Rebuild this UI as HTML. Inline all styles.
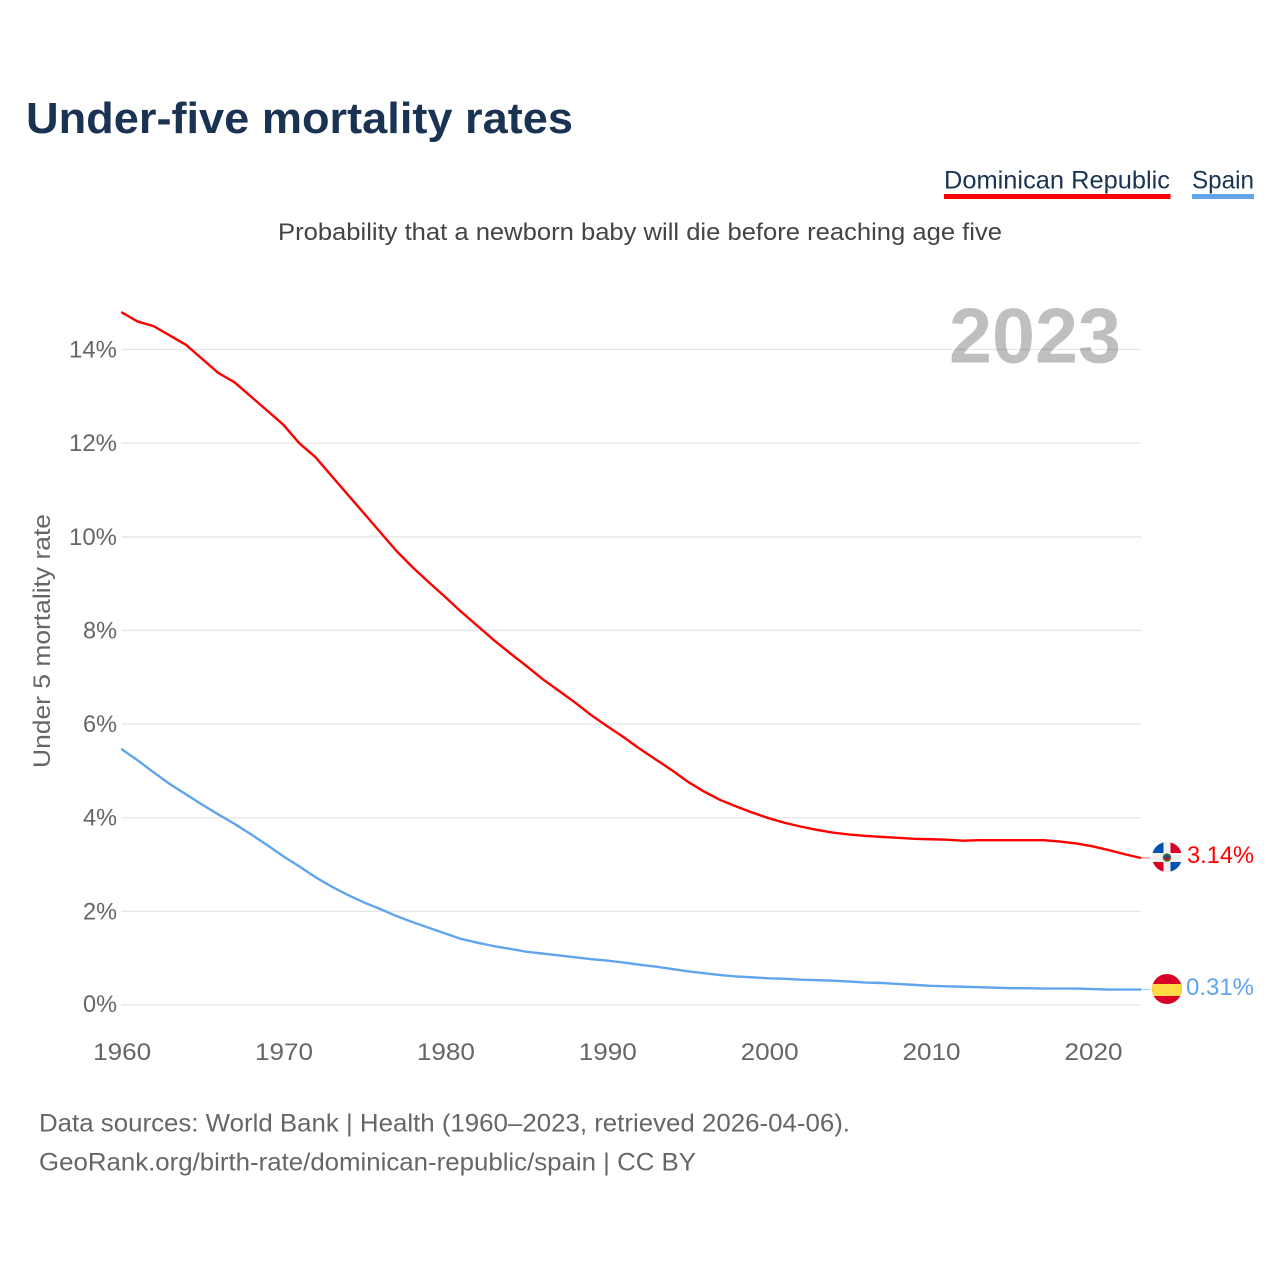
<!DOCTYPE html>
<html lang="en">
<head>
<meta charset="utf-8">
<title>Under-five mortality rates</title>
<style>
  html, body { margin: 0; padding: 0; background: #fff; }
  svg { display: block; font-family: "Liberation Sans", sans-serif; }
</style>
</head>
<body>
<svg id="chart" width="1280" height="1280" viewBox="0 0 1280 1280" xmlns="http://www.w3.org/2000/svg">
  <defs>
    <clipPath id="clip-dr"><circle cx="1167" cy="857" r="15"></circle></clipPath>
    <clipPath id="clip-es"><circle cx="1167" cy="989" r="15"></circle></clipPath>
  </defs>
  <rect width="1280" height="1280" fill="#ffffff"></rect>

  <text x="26" y="133" font-size="44" font-weight="700" fill="#1a3353" textLength="547" lengthAdjust="spacingAndGlyphs">Under-five mortality rates</text>

  <g>
    <text x="944" y="188.5" font-size="25" fill="#1a3353" textLength="226" lengthAdjust="spacingAndGlyphs">Dominican Republic</text>
    <rect x="944" y="194" width="226.5" height="5" fill="#ff0000"></rect>
  </g>
  <g>
    <text x="1192" y="188.5" font-size="25" fill="#1a3353" textLength="62" lengthAdjust="spacingAndGlyphs">Spain</text>
    <rect x="1192" y="194" width="62" height="5" fill="#60a5ee"></rect>
  </g>

  <text x="278" y="240" font-size="24" fill="#444444" textLength="724" lengthAdjust="spacingAndGlyphs">Probability that a newborn baby will die before reaching age five</text>

  <g id="grid"></g>
  <g id="y-ticks"></g>
  <g id="x-ticks"></g>

  <text x="949" y="362.5" font-size="78" font-weight="700" fill="#000000" fill-opacity="0.25" textLength="172" lengthAdjust="spacingAndGlyphs">2023</text>

  <text transform="translate(50 768) rotate(-90)" font-size="24" fill="#666666" textLength="254" lengthAdjust="spacingAndGlyphs">Under 5 mortality rate</text>

  <g id="series"></g>

  <g clip-path="url(#clip-dr)">
    <rect x="1152" y="842" width="30" height="30" fill="#f0f0f0"></rect>
    <rect x="1152" y="842" width="11.5" height="11" fill="#0052b4"></rect>
    <rect x="1170.5" y="842" width="11.5" height="11" fill="#d80027"></rect>
    <rect x="1152" y="862" width="11.5" height="10" fill="#d80027"></rect>
    <rect x="1170.5" y="862" width="11.5" height="10" fill="#0052b4"></rect>
    <circle cx="1167" cy="857.5" r="4.3" fill="#496e2d"></circle>
    <path d="M1164.5 857.5a2.5 2.5 0 0 1 5 0z" fill="#0052b4"></path>
    <path d="M1164.5 857.5a2.5 2.5 0 0 0 5 0z" fill="#d80027"></path>
  </g>
  <g clip-path="url(#clip-es)">
    <rect x="1152" y="974" width="30" height="30" fill="#d80027"></rect>
    <rect x="1152" y="984" width="30" height="12" fill="#ffda44"></rect>
  </g>

  <text x="1187" y="863" font-size="24" fill="#ff0000" textLength="67" lengthAdjust="spacingAndGlyphs">3.14%</text>
  <text x="1186" y="995" font-size="24" fill="#60a5ee" textLength="68" lengthAdjust="spacingAndGlyphs">0.31%</text>

  <text x="39" y="1131.5" font-size="25" fill="#666666" textLength="811" lengthAdjust="spacingAndGlyphs">Data sources: World Bank | Health (1960–2023, retrieved 2026-04-06).</text>
  <text x="39" y="1170.5" font-size="25" fill="#666666" textLength="657" lengthAdjust="spacingAndGlyphs">GeoRank.org/birth-rate/dominican-republic/spain | CC BY</text>
</svg>

<script>
const years = [1960,1961,1962,1963,1964,1965,1966,1967,1968,1969,1970,1971,1972,1973,1974,1975,1976,1977,1978,1979,1980,1981,1982,1983,1984,1985,1986,1987,1988,1989,1990,1991,1992,1993,1994,1995,1996,1997,1998,1999,2000,2001,2002,2003,2004,2005,2006,2007,2008,2009,2010,2011,2012,2013,2014,2015,2016,2017,2018,2019,2020,2021,2022,2023];
const dominicanRepublic = [14.8,14.6,14.5,14.3,14.1,13.8,13.5,13.3,13.0,12.7,12.4,12.0,11.7,11.3,10.9,10.5,10.1,9.7,9.35,9.03,8.72,8.4,8.1,7.8,7.52,7.25,6.97,6.72,6.47,6.2,5.96,5.73,5.48,5.25,5.02,4.77,4.56,4.38,4.24,4.11,3.99,3.89,3.81,3.74,3.68,3.64,3.61,3.59,3.57,3.55,3.54,3.53,3.51,3.52,3.52,3.52,3.52,3.52,3.49,3.45,3.39,3.31,3.22,3.14];
const spain = [5.47,5.23,4.97,4.72,4.5,4.28,4.07,3.87,3.65,3.42,3.18,2.96,2.73,2.53,2.35,2.19,2.05,1.9,1.77,1.65,1.53,1.41,1.33,1.26,1.2,1.14,1.1,1.06,1.02,0.98,0.95,0.91,0.86,0.82,0.77,0.72,0.68,0.64,0.61,0.59,0.57,0.56,0.54,0.53,0.52,0.5,0.48,0.47,0.45,0.43,0.41,0.4,0.39,0.38,0.37,0.36,0.36,0.35,0.35,0.35,0.34,0.33,0.33,0.33];
const yTickValues = [0,2,4,6,8,10,12,14];
const xTickValues = [1960,1970,1980,1990,2000,2010,2020];

const NS = 'http://www.w3.org/2000/svg';
function xScale(year) { return 121.2 + (year - 1960) * (1141 - 121.2) / 63; }
function yScale(value) { return 1005 - value * 46.82; }
function make(tag, attrs, parent) {
  const el = document.createElementNS(NS, tag);
  for (const key in attrs) el.setAttribute(key, attrs[key]);
  parent.appendChild(el);
  return el;
}

const gridGroup = document.getElementById('grid');
const yTickGroup = document.getElementById('y-ticks');
yTickValues.forEach(function (v) {
  const line = make('line', { x1: 121.5, x2: 1141, y1: yScale(v), y2: yScale(v), stroke: '#e6e6e6', 'stroke-width': 1.3 }, gridGroup);
  
  
  const label = v + '%';
  const t = make('text', { x: 117 - (label.length === 3 ? 48 : 34), y: yScale(v) + 8 - (v === 0 ? 1 : 0), 'font-size': 24, fill: '#666666', textLength: label.length === 3 ? 48 : 34, lengthAdjust: 'spacingAndGlyphs' }, yTickGroup);
  t.textContent = label;
  
  
});

const xTickGroup = document.getElementById('x-ticks');
xTickValues.forEach(function (year) {
  const t = make('text', { x: xScale(year) - 28, y: 1060, 'font-size': 24, fill: '#666666', textLength: 58, lengthAdjust: 'spacingAndGlyphs' }, xTickGroup);
  t.textContent = String(year);
  
  
});

function linePath(values) {
  return values.map(function (v, i) {
    return (i ? 'L' : 'M') + xScale(years[i]).toFixed(2) + ' ' + yScale(v).toFixed(2);
  }).join(' ');
}

const seriesGroup = document.getElementById('series');

const drLine = make('path', { d: linePath(dominicanRepublic), fill: 'none', stroke: '#ff0000', 'stroke-width': 2.4, 'stroke-linejoin': 'round' }, seriesGroup);



const esLine = make('path', { d: linePath(spain), fill: 'none', stroke: '#60a5ee', 'stroke-width': 2.4, 'stroke-linejoin': 'round' }, seriesGroup);



const drConnector = make('line', { x1: xScale(2023), x2: 1150, y1: yScale(dominicanRepublic[63]), y2: yScale(dominicanRepublic[63]), stroke: '#ff0000', 'stroke-width': 1, opacity: 0.6 }, seriesGroup);



const esConnector = make('line', { x1: xScale(2023), x2: 1150, y1: yScale(spain[63]), y2: yScale(spain[63]), stroke: '#60a5ee', 'stroke-width': 1, opacity: 0.6 }, seriesGroup);


</script>
</body>
</html>
